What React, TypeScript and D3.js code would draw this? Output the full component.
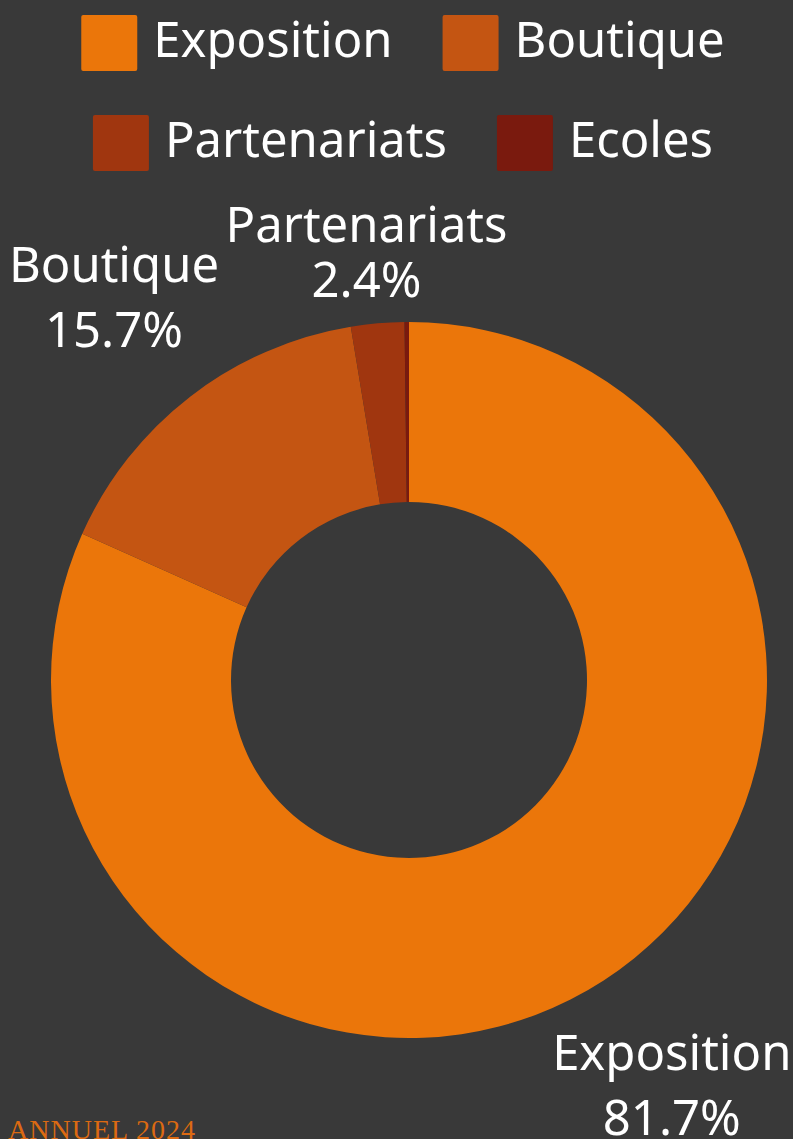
import React, { useMemo } from "react";
import * as d3 from "d3";

const categories = ["Exposition", "Boutique", "Partenariats", "Ecoles"];
const values = [81.7, 15.7, 2.4, 0.2];
const colors = ["#EB760A", "#C45512", "#A0360F", "#7A1A0E"];
const labelled = [true, true, true, false];
const footerText = "ANNUEL 2024";

const W = 793;
const H = 1139;
const BG = "#393939";
const FONT = "'Noto Sans', sans-serif";
const FS = 49;

function measure(text: string, font: string) {
  const c = document.createElement("canvas");
  const ctx = c.getContext("2d")!;
  ctx.font = font;
  return ctx.measureText(text).width;
}

export default function App() {
  const cx = 409;
  const cy = 680;
  const outerR = 358;
  const innerR = 178;
  const labelR = outerR * 1.35;

  const pie = d3.pie<number>().sort(null).value((d) => d);
  const arcs = pie(values);
  const arc = d3.arc<d3.PieArcDatum<number>>().innerRadius(innerR).outerRadius(outerR);

  const legendRows = [[0, 1], [2, 3]];
  const sw = 56;
  const gapText = 16;
  const gapItem = 50;
  const legendCenter = 403;

  const widths = useMemo(
    () => categories.map((c) => measure(c, `${FS}px ${FONT}`)),
    []
  );

  const fmt = (v: number) => `${d3.format(".1f")(v)}%`;
  const total = d3.sum(values);

  return (
    <svg
      width={W}
      height={H}
      style={{ position: "absolute", left: 0, top: 0, background: BG }}
    >
      <rect x={0} y={0} width={W} height={H} fill={BG} />
      {legendRows.map((row, ri) => {
        const rowW =
          row.reduce((s, i) => s + sw + gapText + widths[i], 0) + gapItem * (row.length - 1);
        let x = legendCenter - rowW / 2;
        const top = 15 + ri * 100;
        return (
          <g key={ri}>
            {row.map((i) => {
              const gx = x;
              x += sw + gapText + widths[i] + gapItem;
              return (
                <g key={i}>
                  <rect x={gx} y={top} width={sw} height={sw} rx={2} fill={colors[i]} />
                  <text
                    x={gx + sw + gapText}
                    y={top + 42}
                    fill="#ffffff"
                    fontFamily={FONT}
                    fontSize={FS}
                  >
                    {categories[i]}
                  </text>
                </g>
              );
            })}
          </g>
        );
      })}
      <g transform={`translate(${cx},${cy})`}>
        {arcs.map((a, i) => (
          <path key={i} d={arc(a) || ""} fill={colors[i]} />
        ))}
      </g>
      {arcs.map((a, i) => {
        if (!labelled[i]) return null;
        const mid = (a.startAngle + a.endAngle) / 2;
        const lx = cx + labelR * Math.sin(mid);
        let ly = cy - labelR * Math.cos(mid);
        let lineGap = 65;
        // keep labels clear of the legend
        const minCenter = 252;
        if (ly < minCenter) {
          ly = minCenter;
          lineGap = 55;
        }
        return (
          <text
            key={i}
            textAnchor="middle"
            fill="#ffffff"
            fontFamily={FONT}
            fontSize={FS}
          >
            <tspan x={lx} y={ly - lineGap / 2 + 17}>
              {categories[i]}
            </tspan>
            <tspan x={lx} y={ly + lineGap / 2 + 17}>
              {fmt((values[i] / total) * 100)}
            </tspan>
          </text>
        );
      })}
      <text
        x={8}
        y={1139}
        fill="#DC6A12"
        fontFamily="'Liberation Serif', serif"
        fontSize={28}
        letterSpacing={1}
      >
        {footerText}
      </text>
    </svg>
  );
}
